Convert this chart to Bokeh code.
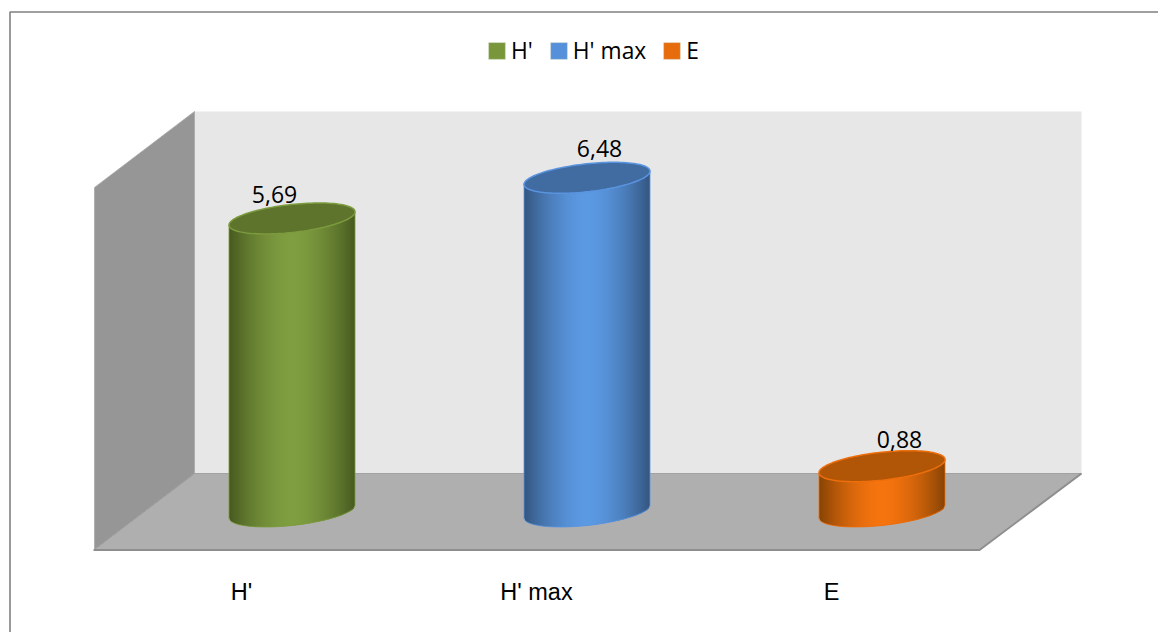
import numpy as np
from bokeh.core.properties import value
from bokeh.embed import file_html
from bokeh.models import Legend, LegendItem, Range1d
from bokeh.plotting import figure
from bokeh.resources import INLINE

categories = ["H'", "H' max", "E"]
values = [5.69, 6.48, 0.88]
value_labels = ["5,69", "6,48", "0,88"]
edge_colors = ["#46591f", "#33557f", "#864304"]
mid_colors = ["#7f9e40", "#5b99e3", "#f6740e"]
cap_colors = ["#5e732c", "#416ca2", "#b05606"]
rim_colors = ["#7b9b3d", "#5a94e0", "#ee6e0c"]
legend_colors = ["#7a963a", "#5690da", "#e66c0c"]

W, H = 1158, 632
# Pixel layout of the value scale: first category centre, category step,
# baseline of the cylinders and pixels per unit of value.
X0, DX, Y0, DY = 291.5, 295, 511, 51.5


def xd(px):
    return (np.asarray(px, dtype=float) - X0) / DX


def yd(py):
    return (Y0 - np.asarray(py, dtype=float)) / DY


p = figure(
    width=W, height=H, output_backend="svg", toolbar_location=None,
    x_range=Range1d(xd(0), xd(W)), y_range=Range1d(yd(H), yd(0)),
    min_border=0, outline_line_color=None, background_fill_color="white",
    border_fill_color="white",
)
p.axis.visible = False
p.grid.visible = False

# Outer chart frame (top and left edges)
p.line(xd([9.5, 9.5, W]), yd([H, 11.5, 11.5]), line_color="#808080", line_width=1.6)

# 3D box: back wall, side wall, floor
p.patch(xd([194, 1081, 1081, 194]), yd([111, 111, 473, 473]), fill_color="#e7e7e7", line_color=None)
p.patch(xd([94, 194, 194, 94]), yd([187, 111, 473, 549]), fill_color="#969696", line_color="#a8a8a8", line_width=0.8)
p.patch(xd([194, 1081, 979, 94]), yd([473, 473, 549, 549]), fill_color="#afafaf", line_color=None)
p.line(xd([194, 1081]), yd([473, 473]), line_color="#a2a2a2", line_width=1)
p.line(xd([194, 94]), yd([473, 549]), line_color="#9a9a9a", line_width=1)
p.line(xd([1081, 979, 93]), yd([473, 549.5, 549.5]), line_color="#8e8e8e", line_width=2)

# Cylinder geometry in pixels
RX, RY, SHEAR = 63.0, 14.0, 0.105


def blend(c1, c2, f):
    a = np.array([int(c1[i:i + 2], 16) for i in (1, 3, 5)], dtype=float)
    b = np.array([int(c2[i:i + 2], 16) for i in (1, 3, 5)], dtype=float)
    m = np.round(a + (b - a) * f).astype(int)
    return "#%02x%02x%02x" % tuple(m)


for i, v in enumerate(values):
    cx = X0 + DX * i
    top = Y0 - DY * v

    # Side of the cylinder: one-pixel vertical strips carrying the horizontal
    # shading, each overlapping the next so no seams show between them.
    xs, ys, cols = [], [], []
    for col in range(int(-RX), int(RX)):
        a, b = col / RX, (col + 1) / RX
        sa = np.array([a, b])
        front = -SHEAR * RX * sa + RY * np.sqrt(np.clip(1 - sa ** 2, 0, 1))
        right = cx + col + (2 if col < RX - 2 else 1)
        xs.append(xd([cx + col, right, right, cx + col]))
        ys.append(yd([top + front[0], top + front[1], Y0 + front[1], Y0 + front[0]]))
        s = (a + b) / 2
        cols.append(blend(mid_colors[i], edge_colors[i], min(1.0, abs(s) ** 1.7)))
    p.patches(xs, ys, fill_color=cols, line_color=None)

    # Rim along the side and the bottom edge
    t = np.linspace(0, np.pi, 80)
    bx = cx + RX * np.cos(t)
    by = Y0 - SHEAR * RX * np.cos(t) + RY * np.sin(t)
    p.line(xd(np.r_[bx[0], bx]), yd(np.r_[top - SHEAR * RX, by]), line_color=rim_colors[i], line_width=1.0, line_alpha=0.8)
    p.line(xd([bx[-1], bx[-1]]), yd([by[-1], top + SHEAR * RX]), line_color=rim_colors[i], line_width=1.0, line_alpha=0.8)

    # Top cap
    t = np.linspace(0, 2 * np.pi, 120)
    ex = cx + RX * np.cos(t)
    ey = top - SHEAR * RX * np.cos(t) + RY * np.sin(t)
    p.patch(xd(ex), yd(ey), fill_color=cap_colors[i], line_color=rim_colors[i], line_width=1.5)

# Value labels, nudged off the cylinder centres
label_dx = [-17.5, 12.5, 17.5]
label_dy = [24, 29, 27]
p.text(
    x=[xd(X0 + DX * i + label_dx[i]) for i in range(3)],
    y=[yd(Y0 - DY * values[i] - label_dy[i]) for i in range(3)],
    text=value_labels, text_font=value("Open Sans"), text_font_size="23px",
    text_color="#000000", text_align="center", text_baseline="alphabetic",
)

# Category labels below the floor
p.text(
    x=[xd(X0 + DX * i - 50.5) for i in range(3)], y=[yd(591.5)] * 3,
    text=categories, text_font=value("Liberation Sans"), text_font_size="23.5px",
    text_color="#000000", text_align="center", text_baseline="alphabetic",
)

# Legend swatches come from zero-size quads so the legend draws the squares
items = []
for name, col in zip(categories, legend_colors):
    r = p.quad(left=[0], right=[0], top=[0], bottom=[0], fill_color=col, line_color="#d8e0d0", line_width=0.5)
    items.append(LegendItem(label=name, renderers=[r]))
legend = Legend(
    items=items, orientation="horizontal", location=(486, 566),
    background_fill_alpha=0, border_line_color=None, glyph_width=21, glyph_height=21,
    label_standoff=4, spacing=15, margin=0, padding=0,
    label_text_font="Open Sans", label_text_font_size="22.8px", label_text_color="#000000",
)
p.add_layout(legend, "center")

open("out.html", "w").write(file_html(p, INLINE))
